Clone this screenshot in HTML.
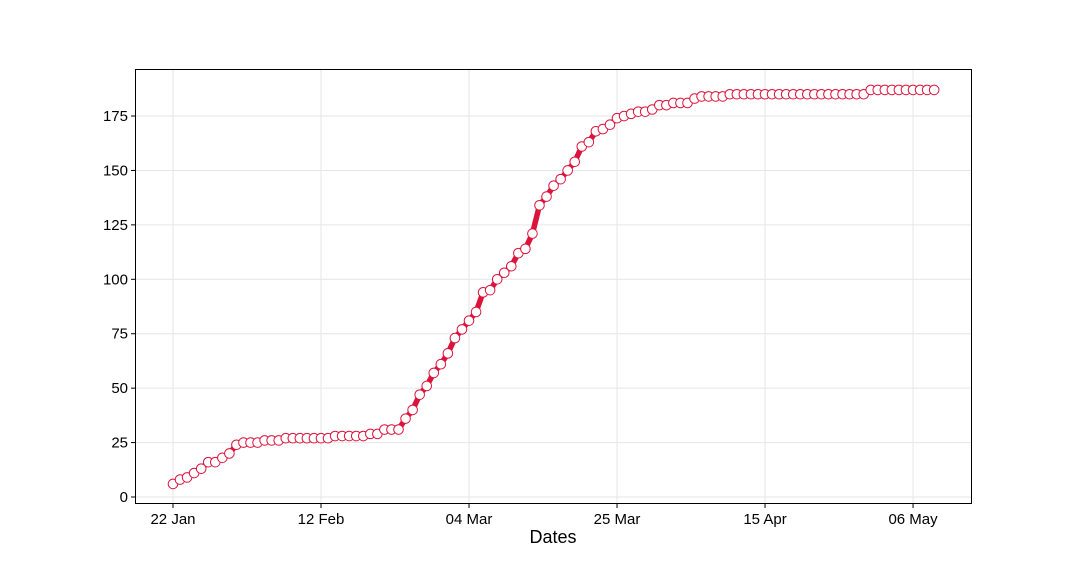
<!DOCTYPE html>
<html><head><meta charset="utf-8"><style>
body{margin:0;background:#fff;}
svg{display:block;font-family:"Liberation Sans","DejaVu Sans",sans-serif;}
</style></head><body>
<svg id="chart" width="1080" height="576" viewBox="0 0 1080 576">
<rect x="0" y="0" width="1080" height="576" fill="#fff"/>
<g id="grid"></g><g id="axes"></g><g id="series"></g>
<rect x="135.5" y="69.5" width="836" height="434" fill="none" stroke="#000" stroke-width="1"/>
<text x="553" y="543" font-size="18" text-anchor="middle">Dates</text>
</svg>
<script>
const values=[6,8,9,11,13,16,16,18,20,24,25,25,25,26,26,26,27,27,27,27,27,27,27,28,28,28,28,28,29,29,31,31,31,36,40,47,51,57,61,66,73,77,81,85,94,95,100,103,106,112,114,121,134,138,143,146,150,154,161,163,168,169,171,174,175,176,177,177,178,180,180,181,181,181,183,184,184,184,184,185,185,185,185,185,185,185,185,185,185,185,185,185,185,185,185,185,185,185,185,187,187,187,187,187,187,187,187,187,187];
const yTicks=[0,25,50,75,100,125,150,175];
const xTickLabels=["22 Jan","12 Feb","04 Mar","25 Mar","15 Apr","06 May"];
const xTickDays=[0,21,42,63,84,105];
const NS="http://www.w3.org/2000/svg";
const xs=d=>173+d*7.048, ys=v=>497-v*2.177;
function mk(t,a,p){const e=document.createElementNS(NS,t);for(const k in a)e.setAttribute(k,a[k]);p.appendChild(e);return e;}
const g=document.getElementById('grid'),ax=document.getElementById('axes'),s=document.getElementById('series');
yTicks.forEach(v=>{const y=ys(v);
 const l=mk('line',{x1:136,x2:971,y1:y,y2:y,stroke:'#e6e6e6','stroke-width':1},g);
 
 mk('line',{x1:131,x2:135,y1:y,y2:y,stroke:'#000'},ax);
 const t=mk('text',{x:128,y:y+5,'font-size':15,'text-anchor':'end'},ax);t.textContent=v;
 });
xTickDays.forEach((d,i)=>{const x=xs(d);
 const l=mk('line',{x1:x,x2:x,y1:70,y2:503,stroke:'#e6e6e6','stroke-width':1},g);
 
 mk('line',{x1:x,x2:x,y1:504,y2:508,stroke:'#000'},ax);
 const t=mk('text',{x:x,y:524,'font-size':15,'text-anchor':'middle'},ax);t.textContent=xTickLabels[i];
 });
const pl=mk('polyline',{points:values.map((v,i)=>xs(i)+','+ys(v)).join(' '),fill:'none',stroke:'#dc143c','stroke-width':5.5,'stroke-linejoin':'round'},s);

values.forEach((v,i)=>{const c=mk('circle',{cx:xs(i),cy:ys(v),r:4.8,fill:'#fff',stroke:'#dc143c','stroke-width':1},s);
 });
</script>
</body></html>
